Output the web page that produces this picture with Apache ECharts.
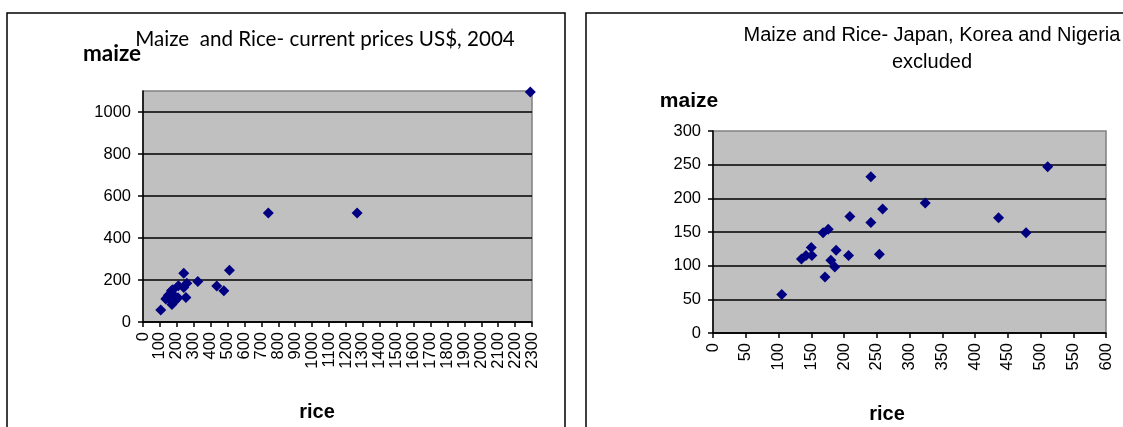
<!DOCTYPE html>
<html>
<head>
<meta charset="utf-8">
<script src="https://cdn.jsdelivr.net/npm/echarts@6/dist/echarts.min.js"></script>
<style>
html, body { margin: 0; padding: 0; background: #fff; }
#main { width: 1123px; height: 427px; }
</style>
</head>
<body>
<div id="main"></div>
<script>
// rice vs maize prices, the countries kept in the right chart
var riceKept  = [105, 135, 142, 151, 150, 168, 176, 171, 180, 186, 188, 207, 209, 241, 241, 254, 259, 324, 436, 478, 511];
var maizeKept = [57, 110, 115, 115, 127, 149, 154, 83, 108, 98, 123, 115, 173, 164, 232, 117, 184, 193, 171, 149, 247];
// Japan, Korea and Nigeria (only in the left chart)
var riceOut  = [741, 1266, 2290];
var maizeOut = [519, 519, 1095];

var titleLeft = 'Maize  and Rice- current prices US$, 2004';
var titleRight = ['Maize and Rice- Japan, Korea and Nigeria', 'excluded'];

function pairs(xs, ys) {
    return xs.map(function (x, i) { return [x, ys[i]]; });
}
var keptPts = pairs(riceKept, maizeKept);
var allPts = keptPts.concat(pairs(riceOut, maizeOut));

var arial = '"Liberation Sans", Arial, sans-serif';
var navy = '#000080';

// plain numbers, no thousands separator
function plain(v) { return String(v); }

function xAx(idx, max, step) {
    return {
        gridIndex: idx, type: 'value', min: 0, max: max, interval: step,
        axisLine: { lineStyle: { color: '#000', width: 1.5 } },
        axisTick: { length: 5, lineStyle: { color: '#000', width: 1.5 } },
        axisLabel: { rotate: 90, margin: 10, color: '#000', fontSize: 16.5, fontFamily: arial, formatter: plain },
        splitLine: { show: false }
    };
}
function yAx(idx, max, step) {
    return {
        gridIndex: idx, type: 'value', min: 0, max: max, interval: step,
        axisLine: { show: true, lineStyle: { color: '#000', width: 1.5 } },
        axisTick: { show: true, length: 5, lineStyle: { color: '#000', width: 1.5 } },
        axisLabel: { margin: 12, color: '#000', fontSize: 16.5, fontFamily: arial, showMaxLabel: step === 50, formatter: plain },
        splitLine: { show: true, showMaxLine: false, lineStyle: { color: '#000', width: 1.5 } }
    };
}

var myChart = echarts.init(document.getElementById('main'));

var option = {
    animation: false,
    grid: [
        { left: 143, top: 91, width: 389, height: 231, show: true, backgroundColor: '#c0c0c0', borderColor: '#808080', borderWidth: 1.5 },
        { left: 713, top: 131, width: 393, height: 202, show: true, backgroundColor: '#c0c0c0', borderColor: '#808080', borderWidth: 1.5 }
    ],
    xAxis: [xAx(0, 2300, 100), xAx(1, 600, 50)],
    yAxis: [yAx(0, 1100, 200), yAx(1, 300, 50)],
    series: [
        { type: 'scatter', xAxisIndex: 0, yAxisIndex: 0, data: allPts, symbol: 'diamond', symbolSize: 11, itemStyle: { color: navy, opacity: 1 } },
        { type: 'scatter', xAxisIndex: 1, yAxisIndex: 1, data: keptPts, symbol: 'diamond', symbolSize: 11, itemStyle: { color: navy, opacity: 1 } }
    ],
    graphic: [
        { type: 'rect', shape: { x: 7, y: 13, width: 558, height: 440 }, style: { fill: 'none', stroke: '#000', lineWidth: 1.5 } },
        { type: 'rect', shape: { x: 586, y: 13, width: 560, height: 440 }, style: { fill: 'none', stroke: '#000', lineWidth: 1.5 } },
        { type: 'text', x: 325, y: 39, style: { text: titleLeft, font: '20.6px Lato', fill: '#000', align: 'center', verticalAlign: 'middle' } },
        { type: 'text', x: 112, y: 54, style: { text: 'maize', font: 'bold 22.5px Lato', fill: '#000', align: 'center', verticalAlign: 'middle' } },
        { type: 'text', x: 317, y: 412, style: { text: 'rice', font: 'bold 20px ' + arial, fill: '#000', align: 'center', verticalAlign: 'middle' } },
        { type: 'text', x: 932, y: 35, style: { text: titleRight[0], font: '20px ' + arial, fill: '#000', align: 'center', verticalAlign: 'middle' } },
        { type: 'text', x: 932, y: 62, style: { text: titleRight[1], font: '20px ' + arial, fill: '#000', align: 'center', verticalAlign: 'middle' } },
        { type: 'text', x: 689, y: 101, style: { text: 'maize', font: 'bold 21px ' + arial, fill: '#000', align: 'center', verticalAlign: 'middle' } },
        { type: 'text', x: 887, y: 414, style: { text: 'rice', font: 'bold 20px ' + arial, fill: '#000', align: 'center', verticalAlign: 'middle' } }
    ]
};

myChart.setOption(option);
</script>
</body>
</html>
